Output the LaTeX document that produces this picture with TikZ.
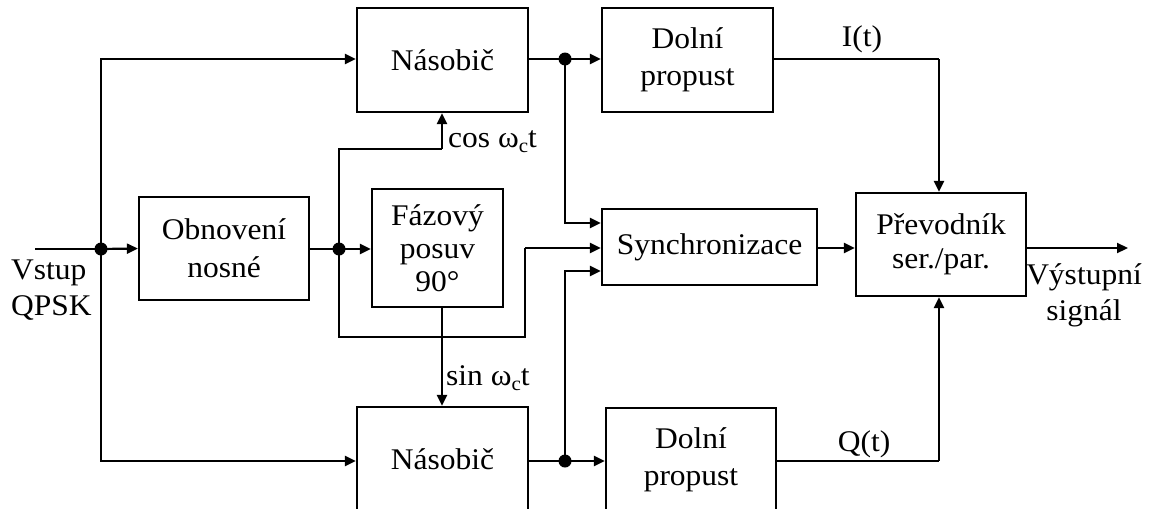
\documentclass[tikz,border=0pt]{standalone}
\usepackage{fontspec}
\setmainfont{Liberation Serif}[FakeStretch=1.05]
\usetikzlibrary{arrows.meta}
\begin{document}
\begin{tikzpicture}[x=1pt,y=-1pt,
  every node/.style={font=\fontsize{30}{36}\selectfont},
  blk/.style={draw,line width=2.2pt,rectangle,inner sep=0pt,align=center},
  lbl/.style={inner sep=0pt,align=center},
  conn/.style={line width=2.2pt,-{Triangle[length=11pt,width=10pt]}},
  wire/.style={line width=2.2pt},
  dot/.style={circle,fill=black,inner sep=0pt,minimum size=13pt}]
\clip (0,0) rectangle (1152,509);
\fill[white] (0,0) rectangle (1152,509);
% blocks
\node[blk,minimum width=171pt,minimum height=104pt] (mulT) at (442.5,60) {Násobič};
\node[blk,minimum width=171pt,minimum height=104pt,font=\fontsize{30}{37}\selectfont] (lpT) at (687.5,60) {Dolní\\propust};
\node[blk,minimum width=170pt,minimum height=103pt,font=\fontsize{30}{38}\selectfont] (obn) at (224,248.5) {Obnovení\\nosné};
\node[blk,minimum width=131pt,minimum height=118pt,font=\fontsize{30}{33}\selectfont] (faz) at (437.5,248) {Fázový\\posuv\\90°};
\node[blk,minimum width=215pt,minimum height=76pt] (sync) at (709.5,247) {Synchronizace};
\node[blk,minimum width=170pt,minimum height=103pt,font=\fontsize{30}{34}\selectfont] (prev) at (941,244.5) {Převodník\\ser./par.};
\node[blk,minimum width=171pt,minimum height=104pt] (mulB) at (442.5,459) {Násobič};
\node[blk,minimum width=170pt,minimum height=104pt,font=\fontsize{30}{37}\selectfont] (lpB) at (691,460) {Dolní\\propust};
% junctions and free ends
\node[dot] (j1) at (101,249) {};
\node[dot] (j2) at (339,249) {};
\node[dot] (j3) at (565,59) {};
\node[dot] (j4) at (565,461) {};
\coordinate (in) at (35,249);
\coordinate (out) at (1128,248);
\coordinate (c1) at (339,149);
\coordinate (c2) at (442,149);
\coordinate (l1) at (339,337);
\coordinate (l2) at (525,337);
\coordinate (l3) at (525,248);
\coordinate (i1) at (939,59);
\coordinate (q1) at (939,461);
% connectors
\draw[wire] (in) -- (j1.center);
\draw[conn] (j1.center) -- (obn.west);
\draw[conn] (j1.center) |- (mulT.west |- 0,59);
\draw[conn] (j1.center) |- (mulB.west |- 0,461);
\draw[wire] (obn.east |- j2) -- (j2.center);
\draw[conn] (j2.center) -- (faz.west |- j2);
\draw[wire] (j2.center) -- (c1) -- (c2);
\draw[conn] (c2) -- (mulT.south -| c2);
\draw[wire] (j2.center) -- (l1) -- (l2) -- (l3);
\draw[conn] (l3) -- (sync.west |- l3);
\draw[conn] (faz.south -| c2) -- (mulB.north -| c2);
\draw[wire] (mulT.east |- j3) -- (j3.center);
\draw[conn] (j3.center) -- (lpT.west |- j3);
\draw[conn] (j3.center) |- (sync.west |- 0,223);
\draw[wire] (mulB.east |- j4) -- (j4.center);
\draw[conn] (j4.center) -- (lpB.west |- j4);
\draw[conn] (j4.center) |- (sync.west |- 0,271);
\draw[wire] (lpT.east |- i1) -- (i1);
\draw[conn] (i1) -- (prev.north -| i1);
\draw[wire] (lpB.east |- q1) -- (q1);
\draw[conn] (q1) -- (prev.south -| q1);
\draw[conn] (sync.east |- 0,248) -- (prev.west |- 0,248);
\draw[conn] (prev.east |- out) -- (out);
% labels
\node[lbl,anchor=west] (lcos) at (448,142) {cos ω\raisebox{-0.35ex}{\fontsize{20}{20}\selectfont c}t};
\node[lbl,anchor=west] (lsin) at (446,378) {sin ω\raisebox{-0.35ex}{\fontsize{20}{20}\selectfont c}t};
\node[lbl] (lI) at (862,39) {I(t)};
\node[lbl] (lQ) at (864,444) {Q(t)};
\node[lbl,align=left,anchor=west] (lin) at (11,290) {Vstup\\QPSK};
\node[lbl] (lout) at (1084,295) {Výstupní\\signál};
\end{tikzpicture}
\end{document}
